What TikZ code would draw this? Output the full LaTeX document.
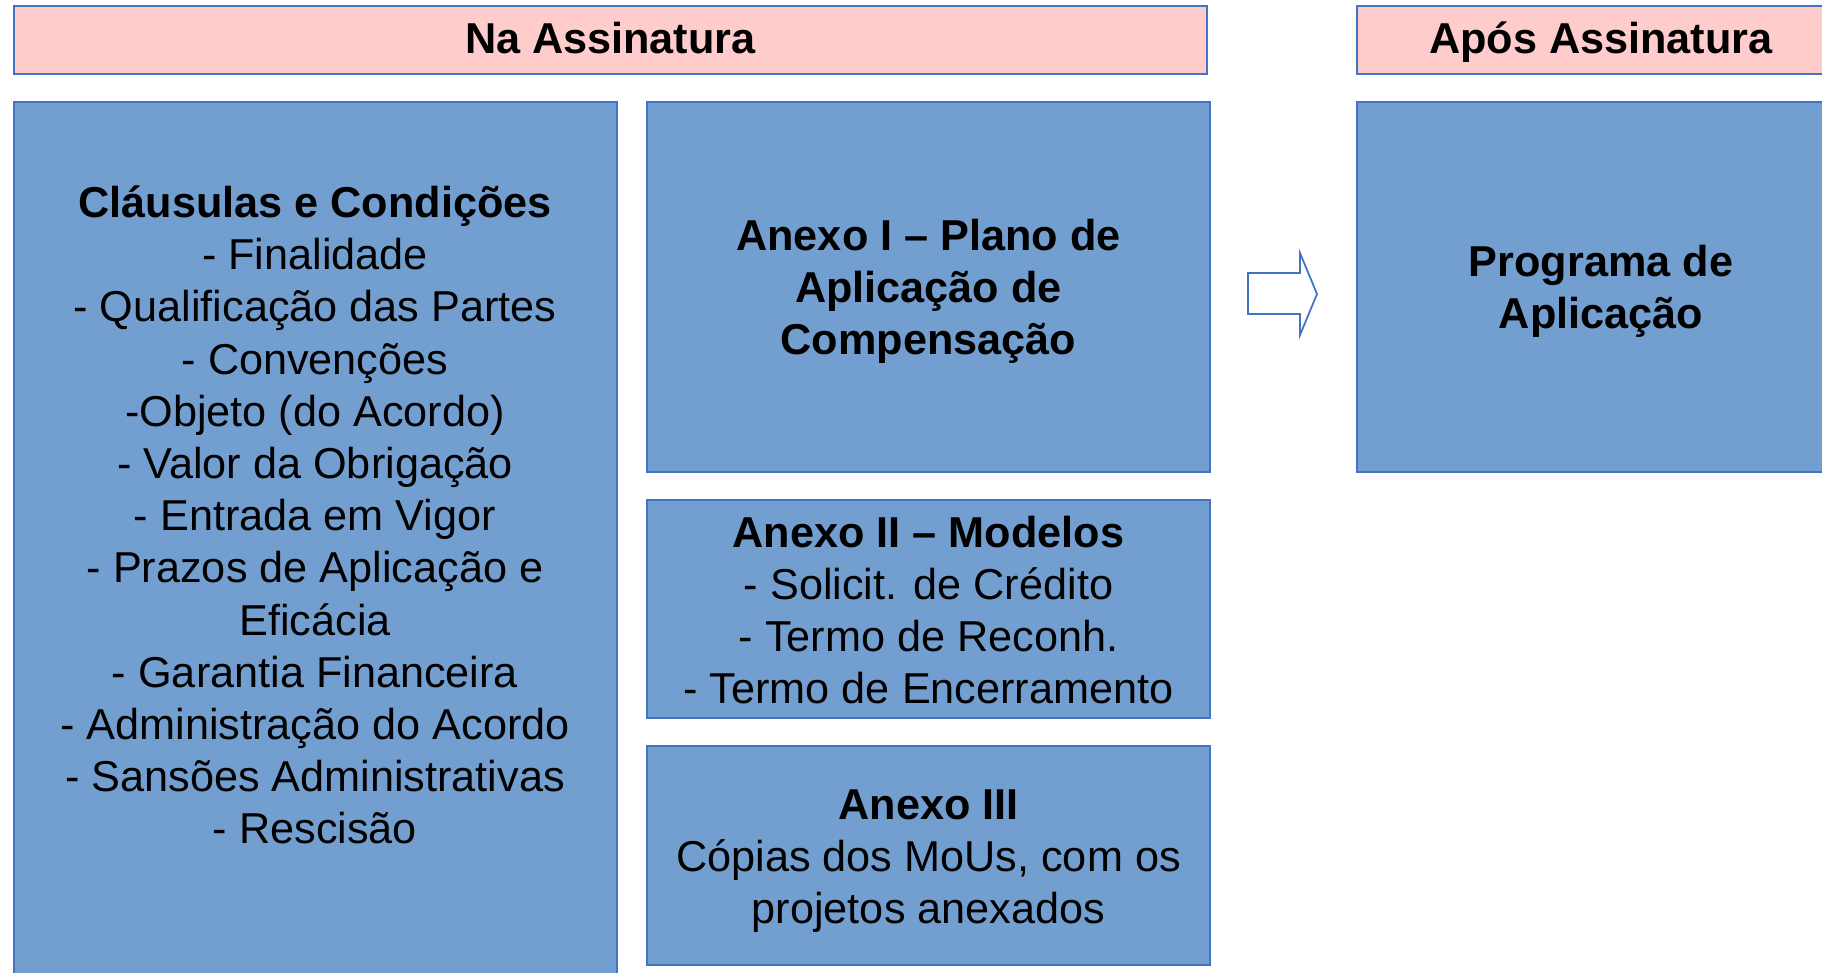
\documentclass[tikz,border=0pt]{standalone}
\usepackage{fontspec}
\setmainfont{Liberation Sans}
\usepackage{xcolor}
\definecolor{boxblue}{RGB}{114,159,207}
\definecolor{lineblue}{RGB}{68,114,196}
\definecolor{headpink}{RGB}{255,204,204}

\begin{document}
\begin{tikzpicture}[
    every node/.style={font=\fontsize{12.3}{14.85}\selectfont,align=center,inner sep=0pt},
    headbox/.style={draw=lineblue,line width=0.5pt,fill=headpink,minimum height=0.68cm,
        text height=8.8pt,text depth=1.4pt},
    bluebox/.style={draw=lineblue,line width=0.5pt,fill=boxblue}]
\useasboundingbox (0,0) rectangle (18.22,-9.72);
\clip (0,0) rectangle (18.22,-9.72);
\path
    (6.105,-0.40) node [headbox,minimum width=11.93cm] (nahead) {\textbf{Na Assinatura}}
    (16.01,-0.40) node [headbox,minimum width=4.88cm] (aposhead) {\textbf{Após Assinatura}};
\path
    (3.155,-5.46) node [bluebox,minimum width=6.03cm,minimum height=8.88cm] (clause) {}
    (9.285,-2.87) node [bluebox,minimum width=5.63cm,minimum height=3.70cm] (anexoi) {}
    (9.285,-6.09) node [bluebox,minimum width=5.63cm,minimum height=2.18cm] (anexoii) {}
    (9.285,-8.555) node [bluebox,minimum width=5.63cm,minimum height=2.19cm] (anexoiii) {}
    (16.01,-2.87) node [bluebox,minimum width=4.88cm,minimum height=3.70cm] (programa) {};
% texts of the boxes
\path
    (3.15,-5.15) node (clausetext) {\textbf{Cláusulas e Condições}\\
        - Finalidade\\ - Qualificação das Partes\\ - Convenções\\
        -Objeto (do Acordo)\\ - Valor da Obrigação\\ - Entrada em Vigor\\
        - Prazos de Aplicação e\\ Eficácia\\ - Garantia Financeira\\
        - Administração do Acordo\\ - Sansões Administrativas\\ - Rescisão}
    (anexoi.center) +(0,-0.046) node (anexoitext)
        {\textbf{Anexo I – Plano de}\\ \textbf{Aplicação de}\\ \textbf{Compensação}}
    (anexoii.center) +(0,-0.01) node (anexoiitext)
        {\textbf{Anexo II – Modelos}\\ - Solicit. de Crédito\\ - Termo de Reconh.\\ - Termo de Encerramento}
    (anexoiii.center) +(0,-0.055) node (anexoiiitext)
        {\textbf{Anexo III}\\ Cópias dos MoUs, com os\\ projetos anexados}
    (programa.center) +(0,-0.046) node (programatext)
        {\textbf{Programa de}\\ \textbf{Aplicação}};
% block arrow between the columns
\draw [lineblue,line width=0.5pt,fill=white]
    (12.48,-2.73) -- (13.00,-2.73) -- (13.00,-2.53) -- (13.17,-2.94)
    -- (13.00,-3.35) -- (13.00,-3.14) -- (12.48,-3.14) -- cycle;
\end{tikzpicture}
\end{document}
